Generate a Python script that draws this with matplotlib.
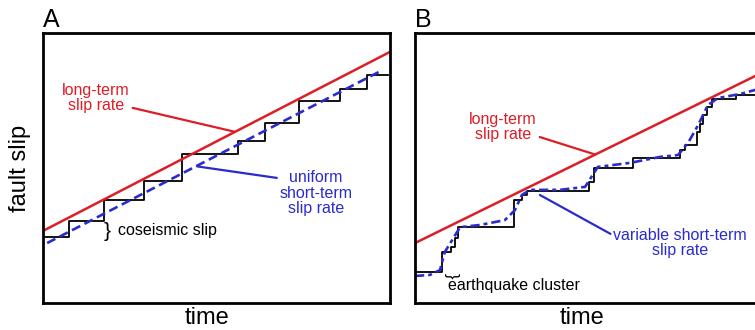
import numpy as np
import matplotlib
matplotlib.use("Agg")
import matplotlib.pyplot as plt

plt.rcParams['font.family'] = ['Liberation Sans', 'DejaVu Sans']

# panel A: regular earthquakes
a_step_t = [0, 7.5, 17.6, 29.1, 40.1, 56.2, 64.0, 73.8, 85.6, 93.4, 99.4]
a_step_slip = [24.4, 30.4, 38.1, 45.2, 55.2, 60.0, 66.7, 74.8, 79.3, 84.4, 84.4]
a_long_t = [0, 100]
a_long_slip = [26.7, 93.0]
a_short_t = [1.2, 97.9]
a_short_slip = [22.2, 86.3]

# panel B: clustered earthquakes
b_step_t = [0, 7.8, 10.4, 11.5, 12.4, 28.5, 30.8, 32.3, 50.1, 51.6, 62.8,
            76.4, 77.8, 81.3, 82.1, 83.0, 84.1, 85.6, 92.5, 100]
b_step_slip = [11.5, 18.9, 20.7, 24.1, 28.1, 38.1, 40.0, 41.5, 44.8, 50.0, 53.7,
               56.7, 58.5, 63.3, 66.3, 69.6, 72.6, 75.6, 77.0, 77.0]
b_long_t = [0, 100]
b_long_slip = [22.2, 85.3]
b_short_t = [0, 4.3, 7.2, 8.6, 10.7, 13.0, 18.7, 25.9, 28.8, 30.8, 33.1, 41.8,
             49.0, 51.0, 52.7, 62.0, 70.6, 75.8, 78.7, 81.6, 84.4, 87.3, 93.7, 100]
b_short_slip = [10.0, 10.4, 12.2, 18.9, 23.3, 28.1, 28.9, 30.7, 34.4, 40.0, 41.9, 41.9,
                43.0, 47.0, 50.4, 51.9, 54.1, 54.8, 59.3, 65.9, 73.3, 75.9, 77.4, 79.6]

RED = '#dc1e26'
BLUE = '#2b2bcc'
TXT = 11.5

fig = plt.figure(figsize=(7.55, 3.3), dpi=100)
axA = fig.add_axes([43 / 755, 27 / 330, 347 / 755, 270 / 330])
axB = fig.add_axes([415 / 755, 27 / 330, 347 / 755, 270 / 330])

for ax in (axA, axB):
    ax.set_xlim(0, 100)
    ax.set_ylim(0, 100)
    ax.set_xticks([])
    ax.set_yticks([])
    for s in ax.spines.values():
        s.set_linewidth(2.0)

axA.step(a_step_t, a_step_slip, where='post', color='black', lw=1.3)
axA.plot(a_long_t, a_long_slip, color=RED, lw=1.8)
axA.plot(a_short_t, a_short_slip, color=BLUE, lw=1.9, ls=(0, (3.5, 1.8)))

axA.annotate('long-term\nslip rate', xy=(55.3, 63.4), xytext=(15.3, 75.9),
             color=RED, fontsize=TXT, ha='center', va='center', linespacing=1.05,
             arrowprops=dict(arrowstyle='-', color=RED, lw=1.6, shrinkA=0, shrinkB=0,
                             relpos=(1.0, 0.2)))
axA.annotate('uniform\nshort-term\nslip rate', xy=(44.4, 50.6), xytext=(78.7, 40.7),
             color=BLUE, fontsize=TXT, ha='center', va='center', linespacing=1.05,
             arrowprops=dict(arrowstyle='-', color=BLUE, lw=1.6, shrinkA=0, shrinkB=0,
                             relpos=(0.0, 0.82)))
axA.text(17.5, 26.5, '}', fontsize=15, va='center', ha='left')
axA.text(21.6, 26.8, 'coseismic slip', fontsize=TXT, va='center', ha='left')

axB.step(b_step_t, b_step_slip, where='post', color='black', lw=1.3)
axB.plot(b_long_t, b_long_slip, color=RED, lw=1.8)
axB.plot(b_short_t, b_short_slip, color=BLUE, lw=1.9, ls=(0, (3.5, 1.5, 1.5, 1.5)))

axB.annotate('long-term\nslip rate', xy=(51.9, 55.0), xytext=(25.4, 65.2),
             color=RED, fontsize=TXT, ha='center', va='center', linespacing=1.05,
             arrowprops=dict(arrowstyle='-', color=RED, lw=1.6, shrinkA=0, shrinkB=0,
                             relpos=(1.0, 0.2)))
axB.annotate('variable short-term\nslip rate', xy=(36.0, 40.0), xytext=(76.4, 22.2),
             color=BLUE, fontsize=TXT, ha='center', va='center', linespacing=1.05,
             arrowprops=dict(arrowstyle='-', color=BLUE, lw=1.6, shrinkA=0, shrinkB=0,
                             relpos=(0.0, 0.75)))
axB.text(10.4, 10.0, '}', fontsize=12, rotation=-90, va='center', ha='center')
axB.text(9.5, 6.3, 'earthquake cluster', fontsize=TXT, va='center', ha='left')

fig.text(43 / 755, 1 - 27 / 330, 'A', fontsize=18, va='baseline', ha='left')
fig.text(415 / 755, 1 - 27 / 330, 'B', fontsize=18, va='baseline', ha='left')
fig.text(20 / 755, 1 - 168 / 330, 'fault slip', fontsize=17, rotation=90,
         va='center', ha='center')
fig.text(207 / 755, 1 - 318 / 330, 'time', fontsize=17, va='center', ha='center')
fig.text(582 / 755, 1 - 318 / 330, 'time', fontsize=17, va='center', ha='center')

fig.savefig('out.png', dpi=100)
